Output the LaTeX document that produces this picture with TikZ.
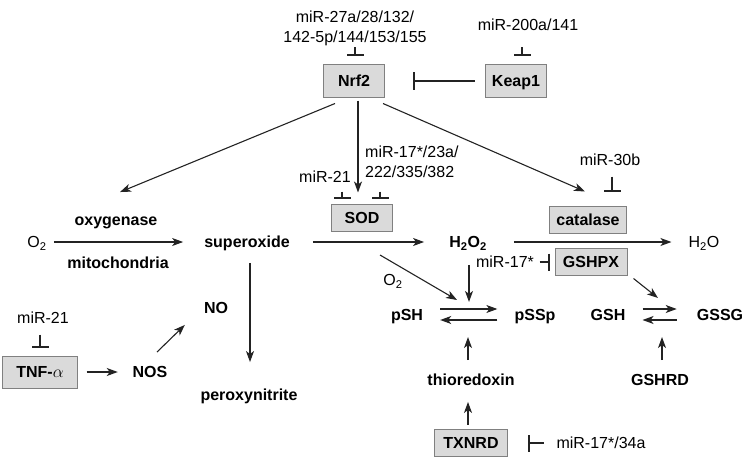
\documentclass[tikz,border=0pt]{standalone}
\usepackage{fontspec}
\setmainfont{Liberation Sans}
\usepackage{tikz}
\usetikzlibrary{arrows.meta,positioning}
\definecolor{boxfill}{RGB}{218,218,218}
\definecolor{boxline}{RGB}{128,128,128}
\definecolor{linegray}{RGB}{35,35,35}

\begin{document}
\begin{tikzpicture}[
		x=1pt,y=-1pt,
		font=\fontsize{16}{20}\selectfont,
		lab/.style={inner sep=2pt,text height=11.5pt,text depth=0pt},
		mol/.style={lab,font=\fontsize{16}{20}\selectfont\bfseries},
		mir/.style={inner sep=2pt},
		box/.style={draw=boxline,fill=boxfill,line width=1pt,minimum height=27pt,
			text height=11.5pt,text depth=0pt,font=\fontsize{16}{20}\selectfont\bfseries},
		act/.style={-{Stealth[length=11pt,width=8pt,inset=3pt]},linegray,line width=1.1pt},
		inh/.style={-{Bar[width=17pt,line width=2pt,sep=0pt]},linegray,line width=1.2pt}]
		\useasboundingbox (0,0) rectangle (744,460);
		
		% Nrf2 and Keap1
		\node[mir,align=center] (mirNrf) at (355,28) {miR-27a/28/132/\\142-5p/144/153/155};
		\node[lab] (mirKeap) at (528,25) {miR-200a/141};
		\node[box,minimum width=61pt,minimum height=32pt] (nrf) at (354,81) {Nrf2};
		\node[box,minimum width=61pt,minimum height=32pt] (keap) at (516,81) {Keap1};
		
		% enzymes
		\node[lab] (mirSodA) at (325,177) {miR-21};
		\node[mir,align=left,anchor=west] (mirSodB) at (363,162) {miR-17*/23a/\\222/335/382};
		\node[box,minimum width=61pt] (sod) at (362,218) {SOD};
		\node[lab] (mirCat) at (610,160) {miR-30b};
		\node[box,minimum width=77pt] (cat) at (588,220) {catalase};
		\node[box,minimum width=72pt] (gpx) at (591,262) {GSHPX};
		\node[lab] (mirGpx) at (505,262) {miR-17*};
		
		% main row
		\node[lab] (o2) at (37,242) {O\textsubscript{2}};
		\node[mol] (oxy) at (116,220) {oxygenase};
		\node[mol] (mito) at (118,263) {mitochondria};
		\node[mol] (sup) at (247,242) {superoxide};
		\node[mol] (hoo) at (468,242) {H\textsubscript{2}O\textsubscript{2}};
		\node[lab] (hoh) at (704,242) {H\textsubscript{2}O};
		\node[lab] (o2b) at (393,280) {O\textsubscript{2}};
		
		% redox pairs
		\node[mol] (psh) at (407,315) {pSH};
		\node[mol] (pssp) at (535,315) {pSSp};
		\node[mol] (gsh) at (608,315) {GSH};
		\node[mol] (gssg) at (720,315) {GSSG};
		\node[mol] (trx) at (471,380) {thioredoxin};
		\node[mol] (gshrd) at (660,380) {GSHRD};
		\node[box,minimum width=73pt] (txnrd) at (471,443) {TXNRD};
		\node[lab] (mirTx) at (601,443) {miR-17*/34a};
		
		% TNF branch
		\node[lab] (mirTnf) at (43,318) {miR-21};
		\node[box,minimum width=75pt,minimum height=32pt] (tnf) at (40,372) {TNF-$\alpha$};
		\node[mol] (nos) at (150,372) {NOS};
		\node[mol] (no) at (216,308) {NO};
		\node[mol] (perox) at (249,395) {peroxynitrite};
		
		\coordinate (supbranch) at (380,255);
		\coordinate (redoxin) at (457,300);
		\coordinate (glutin) at (658,298);
		
		% inhibitions
		\draw[inh] ([xshift=1,yshift=17]nrf.north) -- ([xshift=1,yshift=8]nrf.north);
		\draw[inh] ([xshift=6,yshift=17]keap.north) -- ([xshift=6,yshift=8]keap.north);
		\draw[inh] ([xshift=-10.5]keap.west) -- ([xshift=27.5]nrf.east);
		\draw[inh] ([xshift=-20,yshift=12.5]sod.north) -- ([xshift=-20,yshift=5.5]sod.north);
		\draw[inh] ([xshift=18,yshift=12.5]sod.north) -- ([xshift=18,yshift=5.5]sod.north);
		\draw[inh] ([xshift=24,yshift=29.5]cat.north) -- ([xshift=24,yshift=14.5]cat.north);
		\draw[inh] ([xshift=-15]gpx.west) -- ([xshift=-5]gpx.west);
		\draw[inh] ([xshift=35.5]txnrd.east) -- ([xshift=19.5]txnrd.east);
		\draw[inh] ([yshift=21]tnf.north) -- ([yshift=8]tnf.north);
		
		% activations
		\draw[act] ([xshift=-19,yshift=-6]nrf.south) -- ([xshift=4,yshift=20]oxy.north);
		\draw[act] ([xshift=4,yshift=-3]nrf.south) -- ([xshift=-4,yshift=11.5]sod.north);
		\draw[act] ([xshift=29,yshift=-6]nrf.south) -- ([xshift=-3,yshift=14.5]cat.north);
		\draw[act] ([xshift=5]o2.east) -- ([xshift=-19]sup.west);
		\draw[act] ([xshift=21]sup.east) -- ([xshift=-23]hoo.west);
		\draw[act] ([xshift=25]hoo.east) -- ([xshift=-15]hoh.west);
		\draw[act] (supbranch) -- (redoxin);
		\draw[act] ([xshift=1,yshift=-15]hoo.south) -- ([xshift=1,yshift=-52]hoo.south);
		\draw[act] ([xshift=6,yshift=-2.5]gpx.south east) -- (glutin);
		\draw[act] ([xshift=15,yshift=6]psh.east) -- ([xshift=-15,yshift=6]pssp.west);
		\draw[act] ([xshift=-15,yshift=-5]pssp.west) -- ([xshift=15,yshift=-5]psh.east);
		\draw[act] ([xshift=15,yshift=6]gsh.east) -- ([xshift=-18,yshift=6]gssg.west);
		\draw[act] ([xshift=-18,yshift=-5]gssg.west) -- ([xshift=15,yshift=-5]gsh.east);
		\draw[act] ([xshift=-3,yshift=12]trx.north) -- ([xshift=-3,yshift=35]trx.north);
		\draw[act] ([xshift=-3,yshift=4.5]txnrd.north) -- ([xshift=-3,yshift=-14]trx.south);
		\draw[act] ([xshift=2,yshift=12]gshrd.north) -- ([xshift=2,yshift=35]gshrd.north);
		\draw[act] ([xshift=8.5]tnf.east) -- ([xshift=-12.7]nos.west);
		\draw[act] ([xshift=7,yshift=12]nos.north) -- ([xshift=-17,yshift=-9]no.south west);
		\draw[act] ([xshift=3,yshift=-13]sup.south) -- ([xshift=1,yshift=25]perox.north);
		
\end{tikzpicture}
\end{document}
